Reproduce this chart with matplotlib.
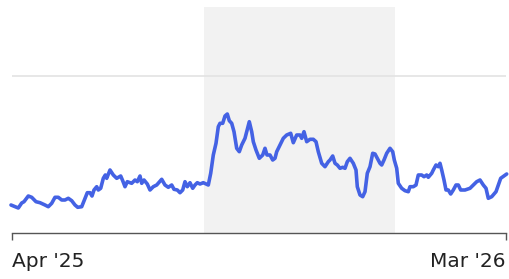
import numpy as np
import matplotlib
matplotlib.use("Agg")
from matplotlib import pyplot as plt

# 読み取った値 (t: 期間内の位置, v: 指数)
t = [-1, 3, 6.3, 9.7, 12, 16.3, 19.7, 24, 28, 33, 36.3, 39.7, 43, 46.3, 49.7, 53, 56.3,
     59.7, 63, 65.7, 69.7, 73, 75.3, 78, 80, 82, 84.7, 86.3, 88.7, 91.3, 93.3, 94.7,
     98, 101.3, 104.7, 108.7, 110.7, 113, 115.3, 119.7, 123, 125.3, 128, 129.7, 132,
     135.3, 138, 141.3, 144.7, 149.7, 153, 156.3, 159.7, 162, 165.3, 168, 170.7, 173,
     175.3, 178, 180.7, 183, 185.3, 188, 191.3, 196.3, 198.7, 201.3, 204, 206.3, 208,
     210.7, 213, 215.3, 217.3, 219.7, 222, 224.7, 227.3, 229.7, 233, 235.3, 237.3,
     239.7, 241.3, 244, 247.3, 250.7, 253, 255, 258, 260.7, 263, 264.7, 268, 271.3,
     274.7, 278.7, 281.3, 284.7, 288, 289.7, 292, 294.7, 298, 301.3, 304, 306.3,
     309.7, 313, 316.3, 318, 320.7, 323, 325.3, 328, 330.7, 333, 335.3, 338, 341.3,
     344, 345.3, 348, 350.7, 353, 355.3, 358, 360.7, 363, 365.3, 368, 369.7, 372,
     374.7, 378, 380.7, 382.3, 384.7, 386.3, 389.7, 393, 396.3, 398, 401.3, 404,
     406.3, 409.7, 412, 414.7, 416.3, 419.7, 421.3, 424, 426.3, 428, 429.7, 432,
     434, 436.3, 438.7, 441.3, 444, 446.3, 448.7, 453, 458, 461.3, 464.7, 468,
     471.3, 474, 476.3, 479.7, 484, 486.3, 488.7, 492, 494.7]
v = [28, 26.3, 25, 30, 31.3, 37, 35.7, 31.3, 30.3, 28, 26.3, 29.7, 35.7, 35.7, 33,
     33, 34.7, 32.3, 28, 25.7, 26.3, 34.7, 40.3, 40.3, 37, 43, 46.3, 43, 44.7, 54.7,
     58, 54.7, 63, 58, 54.7, 57, 52.3, 46.3, 51.3, 49.7, 53, 51.3, 57, 49.7, 53, 49,
     43, 46.3, 48, 53.7, 48, 45.7, 48, 43.7, 43, 40.3, 43, 51.3, 46.3, 50.3, 44.7,
     48, 50.3, 49, 50.3, 48, 59.7, 78, 89.7, 106.3, 109.7, 109.7, 117, 119, 112.3,
     109.7, 101.3, 84.7, 81.3, 88, 94.7, 103.7, 111.3, 101.3, 91.3, 83, 74.7, 78,
     84.7, 78, 78, 73, 74.7, 81.3, 88, 94.7, 98, 99.7, 90.3, 98, 98, 94.7, 101.3,
     91.3, 93.7, 93.7, 91.3, 81.3, 69.7, 66.3, 71.3, 73, 77, 69.7, 68, 64.7, 65.7,
     64.7, 71.3, 74.7, 69.7, 63, 46.3, 38, 36.3, 41.3, 59.7, 66.3, 79.7, 79, 74.7,
     69.7, 68, 73, 79.7, 84.7, 81.3, 73, 64.7, 49.7, 44.7, 42.3, 41.3, 46.3, 46.3,
     48, 58, 58, 56.3, 58, 55.7, 59.7, 63, 68, 66.3, 69.7, 63, 53, 43, 43, 39, 43,
     48, 48, 43, 43, 44.7, 48, 51.3, 53, 48, 44.7, 34.7, 36.3, 41.3, 48, 54.7, 57,
     59]

t_span = (192, 383)       # 網掛けの期間
x_labels = ["Apr '25", "Mar '26"]
x_ticks = [0, 494]
grid_v = 157

fig = plt.figure(figsize=(5.1, 2.79), dpi=100)
ax = fig.add_axes([12 / 510, (279 - 233) / 279, 494 / 510, 226 / 279])

ax.axvspan(t_span[0], t_span[1], color="#f2f2f2", lw=0, zorder=0)
ax.axhline(grid_v, color="#e3e3e3", lw=1.2, zorder=1)
ax.plot(t, v, color="#4462e4", lw=2.6, solid_joinstyle="round",
        solid_capstyle="round", zorder=3, clip_on=False)

ax.set_xlim(x_ticks[0], x_ticks[1])
ax.set_ylim(0, 226)
ax.set_yticks([])
ax.set_xticks(x_ticks)
ax.set_xticklabels(x_labels, fontsize=14.5, color="#222222")
labels = ax.get_xticklabels()
labels[0].set_horizontalalignment("left")
labels[1].set_horizontalalignment("right")
ax.tick_params(axis="x", length=5, width=1, color="#555555", pad=8.5)

for side in ["top", "left", "right"]:
    ax.spines[side].set_visible(False)
ax.spines["bottom"].set_color("#555555")
ax.spines["bottom"].set_linewidth(1)

fig.savefig("out.png", dpi=100)
